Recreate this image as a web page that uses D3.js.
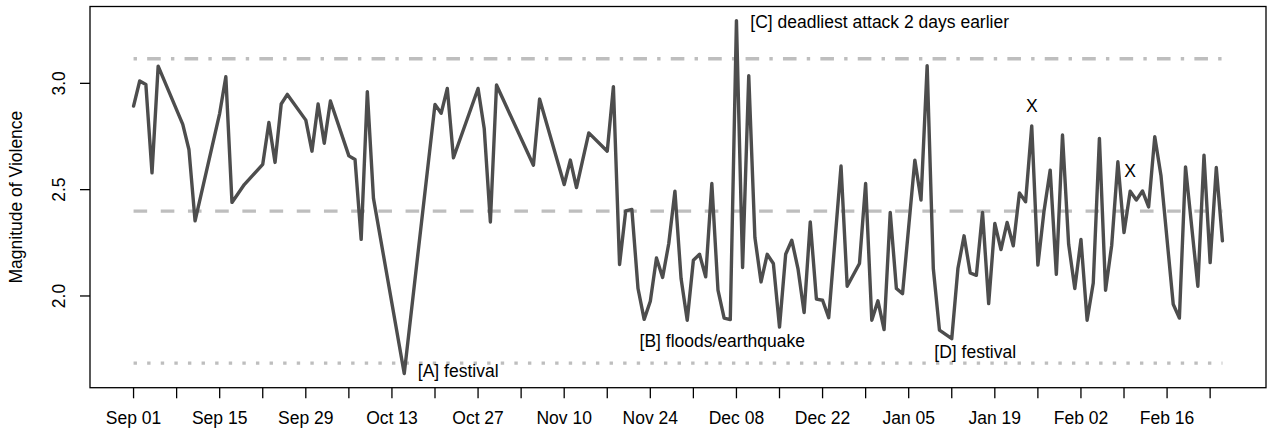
<!DOCTYPE html>
<html>
<head>
<meta charset="utf-8">
<script src="https://cdn.jsdelivr.net/npm/d3@7"></script>
<style>
  body { margin: 0; background: #fff; }
  svg text { font-family: "Liberation Sans", Arial, Helvetica, sans-serif; fill: #000; font-size: 17.5px; }
</style>
</head>
<body>
<div id="chart"></div>
<script>
var margin = {top: 6.5, right: 4, bottom: 44.3, left: 90},
  W = 1270, H = 432,
  width = W - margin.left - margin.right,
  height = H - margin.top - margin.bottom;

// series: days since Sep 01 and the daily magnitude
var startDate = new Date(Date.UTC(2007, 8, 1));
var days = [0, 1, 2, 3, 4, 8, 9, 10, 14, 15, 16, 18, 21, 22, 23, 24, 25, 28, 29, 30,
  31, 32, 35, 36, 37, 38, 39, 44, 49, 50, 51, 52, 56, 57, 58, 59, 65, 66, 70, 71,
  72, 74, 77, 78, 79, 80, 81, 82, 83, 84, 85, 86, 87, 88, 89, 90, 91, 92, 93, 94,
  95, 96, 97, 98, 99, 100, 101, 102, 103, 104, 105, 106, 107, 108, 109, 110, 111, 112, 113, 115,
  116, 118, 119, 120, 121, 122, 123, 124, 125, 127, 128, 129, 130, 131, 133, 134, 135, 136, 137, 138,
  139, 140, 141, 142, 143, 144, 145, 146, 147, 148, 149, 150, 151, 152, 153, 154, 155, 156, 157, 158,
  159, 160, 161, 162, 163, 164, 165, 166, 167, 169, 170, 171, 173, 174, 175, 176, 177];
var values = [2.893, 3.011, 2.995, 2.579, 3.081, 2.807, 2.689, 2.353, 2.859, 3.031, 2.440, 2.524, 2.619, 2.816, 2.628, 2.903, 2.948, 2.827, 2.681, 2.903,
  2.718, 2.917, 2.659, 2.642, 2.266, 2.961, 2.459, 1.635, 2.901, 2.859, 2.976, 2.650, 2.976, 2.788, 2.348, 2.992, 2.615, 2.926, 2.524, 2.639,
  2.510, 2.767, 2.681, 2.984, 2.148, 2.400, 2.407, 2.035, 1.890, 1.975, 2.179, 2.087, 2.247, 2.493, 2.082, 1.886, 2.168, 2.196, 2.090, 2.529,
  2.027, 1.896, 1.889, 3.295, 2.134, 3.036, 2.275, 2.066, 2.196, 2.153, 1.854, 2.196, 2.262, 2.129, 1.922, 2.348, 1.985, 1.980, 1.898, 2.611,
  2.046, 2.153, 2.529, 1.886, 1.977, 1.842, 2.393, 2.035, 2.011, 2.639, 2.451, 3.083, 2.129, 1.839, 1.799, 2.129, 2.283, 2.108, 2.097, 2.393,
  1.964, 2.341, 2.218, 2.346, 2.236, 2.485, 2.443, 2.800, 2.145, 2.400, 2.592, 2.102, 2.757, 2.243, 2.035, 2.266, 1.886, 2.061, 2.741, 2.027,
  2.239, 2.631, 2.298, 2.493, 2.451, 2.494, 2.419, 2.749, 2.568, 1.961, 1.896, 2.607, 2.046, 2.662, 2.157, 2.604, 2.259];

// reference lines (upper, mean, lower)
var refValues = [3.116, 2.399, 1.684];
var refDash = ["3.4,10.2,13.6,10.2", "13.6,13.6", "3.4,10.2"];

// y ticks and x ticks (weekly, every other one labelled)
var yTicks = [2.0, 2.5, 3.0];
var tickDays = d3.range(0, 176, 7);

// annotations: label, day position, value position
var annLabels = ["[A] festival", "[B] floods/earthquake", "[C] deadliest attack 2 days earlier", "[D] festival"];
var annDays = [46.2, 82.25, 100.25, 130.15];
var annValues = [1.650, 1.791, 3.290, 1.736];
var markDays = [146, 162];
var markValues = [2.896, 2.589];

var data = days.map(function(d, i) {
  return {date: d3.utcDay.offset(startDate, d), value: values[i]};
});

// R style 4% padding on both axes
var xExt = d3.extent(data, function(d) { return d.date; }),
  xPad = (xExt[1] - xExt[0]) * 0.04,
  yExt = d3.extent(data, function(d) { return d.value; }),
  yPad = (yExt[1] - yExt[0]) * 0.04;

var xScale = d3.scaleUtc()
  .domain([new Date(+xExt[0] - xPad), new Date(+xExt[1] + xPad)])
  .range([0, width]);
var yScale = d3.scaleLinear()
  .domain([yExt[0] - yPad, yExt[1] + yPad])
  .range([height, 0]);

var svg = d3.select("#chart").append("svg")
  .attr("width", W)
  .attr("height", H);

var vis = svg.append("g")
  .attr("transform", "translate(" + margin.left + "," + margin.top + ")");

// reference lines from first to last date
vis.selectAll("line.ref")
  .data(refValues)
  .enter().append("line")
  .attr("class", "ref")
  .attr("x1", xScale(xExt[0]))
  .attr("x2", xScale(xExt[1]))
  .attr("y1", function(d) { return yScale(d); })
  .attr("y2", function(d) { return yScale(d); })
  .attr("stroke", "#bebebe")
  .attr("stroke-width", 3.4)
  .attr("stroke-dasharray", function(d, i) { return refDash[i]; });

// the series
var line = d3.line()
  .x(function(d) { return xScale(d.date); })
  .y(function(d) { return yScale(d.value); });

vis.append("path")
  .datum(data)
  .attr("d", line)
  .attr("fill", "none")
  .attr("stroke", "#4d4d4d")
  .attr("stroke-width", 3.4)
  .attr("stroke-linejoin", "round")
  .attr("stroke-linecap", "round");

// annotations
vis.selectAll("text.ann")
  .data(annLabels)
  .enter().append("text")
  .attr("class", "ann")
  .attr("x", function(d, i) { return xScale(d3.utcHour.offset(startDate, Math.round(annDays[i] * 24))); })
  .attr("y", function(d, i) { return yScale(annValues[i]); })
  .attr("dy", "0.35em")
  .text(function(d) { return d; });

vis.selectAll("text.mark")
  .data(markDays)
  .enter().append("text")
  .attr("class", "mark")
  .attr("x", function(d) { return xScale(d3.utcDay.offset(startDate, d)); })
  .attr("y", function(d, i) { return yScale(markValues[i]); })
  .attr("dy", "0.35em")
  .attr("text-anchor", "middle")
  .text("X");

// box
vis.append("rect")
  .attr("x", 0).attr("y", 0)
  .attr("width", width).attr("height", height)
  .attr("fill", "none")
  .attr("stroke", "#000")
  .attr("stroke-width", 1.3);

// x axis
var fmt = d3.utcFormat("%b %d");
var xAxis = vis.append("g").attr("transform", "translate(0," + height + ")");
xAxis.selectAll("line")
  .data(tickDays)
  .enter().append("line")
  .attr("x1", function(d) { return xScale(d3.utcDay.offset(startDate, d)); })
  .attr("x2", function(d) { return xScale(d3.utcDay.offset(startDate, d)); })
  .attr("y1", 0).attr("y2", 10.6)
  .attr("stroke", "#000").attr("stroke-width", 1.3);
xAxis.selectAll("text")
  .data(tickDays.filter(function(d, i) { return i % 2 === 0; }))
  .enter().append("text")
  .attr("x", function(d) { return xScale(d3.utcDay.offset(startDate, d)); })
  .attr("y", 36.5)
  .attr("text-anchor", "middle")
  .text(function(d) { return fmt(d3.utcDay.offset(startDate, d)); });

// y axis
var yAxis = vis.append("g");
yAxis.selectAll("line")
  .data(yTicks)
  .enter().append("line")
  .attr("x1", -10).attr("x2", 0)
  .attr("y1", function(d) { return yScale(d); })
  .attr("y2", function(d) { return yScale(d); })
  .attr("stroke", "#000").attr("stroke-width", 1.3);
yAxis.selectAll("text")
  .data(yTicks)
  .enter().append("text")
  .attr("transform", function(d) { return "translate(-25," + yScale(d) + ") rotate(-90)"; })
  .attr("text-anchor", "middle")
  .text(function(d) { return d3.format(".1f")(d); });

svg.append("text")
  .attr("transform", "translate(22," + (margin.top + height / 2) + ") rotate(-90)")
  .attr("text-anchor", "middle")
  .text("Magnitude of Violence");
</script>
</body>
</html>
